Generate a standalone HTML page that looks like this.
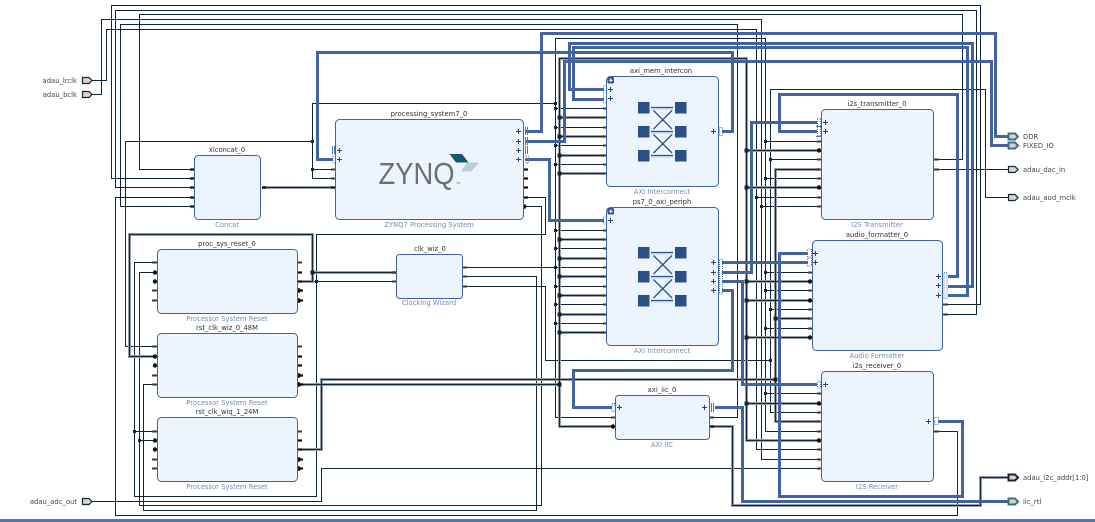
<!DOCTYPE html>
<html>
<head>
<meta charset="utf-8">
<style>
html,body{margin:0;padding:0;background:#fff;width:1095px;height:522px;overflow:hidden}
svg{display:block}
text{font-family:"DejaVu Sans","Liberation Sans",sans-serif;font-size:6.8px;fill:#333}
.t{text-anchor:middle}
.s{text-anchor:middle;fill:#7389bd}
.e{font-size:6.8px;fill:#444}
.n{fill:none;stroke-linejoin:miter}
.thin{fill:none;stroke:#10243a;stroke-width:1}
.gh{fill:none;stroke:#959ea7;stroke-width:3}
.gc{fill:none;stroke:#14263a;stroke-width:1}
.blue{fill:none;stroke:#4263a2;stroke-width:3}
.dot{fill:none;stroke:#10243a;stroke-width:3;stroke-linecap:square}
.dotb{fill:none;stroke:#10243a;stroke-width:4;stroke-linecap:square}
.b{fill:#ecf4fe;stroke:#3f62a3;stroke-width:1}
.pin{fill:none;stroke:#3a3a3a;stroke-width:2}
.pink{fill:none;stroke:#111;stroke-width:2.2}
.clk{fill:#111}
.plus{fill:none;stroke:#24457f;stroke-width:1}
.dash{fill:none;stroke:#4a78c0;stroke-width:1;stroke-dasharray:1 1}
.sol{fill:none;stroke:#4a78c0;stroke-width:1}
.ic{fill:#2c4f8a}
.il{fill:none;stroke:#2f5089;stroke-width:1.3}
.ils{fill:none;stroke:#c5d3e8;stroke-width:1}
.pf{fill:#ddd2cb;stroke:#14263a;stroke-width:1.2}
.pb{fill:#ddd2cb;stroke:#3f7080;stroke-width:2}
.pd{fill:#ddd2cb;stroke:#14263a;stroke-width:2}
</style>
</head>
<body>
<svg width="1095" height="522" viewBox="0 0 1095 522" xmlns="http://www.w3.org/2000/svg">
<rect x="0" y="0" width="1095" height="522" fill="#fff"/>

<!-- thin nets -->
<g class="thin">
<path d="M193 169.5H139.5V14.5H962.5V159.5H935"/>
<path d="M193 178.5H111.5V5.5H980.5V304.5H948"/>
<path d="M193 187.5H115.5V10.5H976.5V314.5H948"/>
<path d="M193 197.5H115.5V515.5H957.5V431.5H938"/>
<path d="M193 206.5H120.5V24.5H737.5V417.5H711"/>
<path d="M92 80.5H106.5V29.5H756.5V449.5H819"/>
<path d="M92 94.5H101.5V19.5H761.5V459.5H819"/>
<path d="M612 417.5H555.5V38.5H765.5V431.5H819"/>
<path d="M312.5 178.5V103.5H555.5"/>
<path d="M312.5 141.5H125.5V346.5H157"/>
<path d="M312.5 169.5H333M312.5 178.5H333"/>
<path d="M555.5 108.5H604M555.5 127.5H604M555.5 145.5H604M555.5 164.5H604M555.5 230.5H604M555.5 248.5H604M555.5 286.5H604M555.5 304.5H604M555.5 323.5H604"/>
<path d="M464 267.5H604"/>
<path d="M464 276.5H536.5V510.5H143.5V384.5H157"/>
<path d="M464 286.5H545.5V360.5H770.5"/>
<path d="M525 197.5H545.5V234.5H316.5V496.5H134.5V262.5H157"/>
<path d="M525 206.5H541.5V505.5H139.5V272.5H157"/>
<path d="M134.5 431.5H157M139.5 440.5H157"/>
<path d="M300 281.5H396"/>
<path d="M92 501.5H321.5V468.5H819"/>
<path d="M819 412.5H770.5V89.5H985.5V197.5H1008"/>
<path d="M935 169.5H1008"/>
<path d="M765.5 141.5H819M765.5 178.5H819M765.5 272.5H810M765.5 290.5H810M765.5 328.5H810M765.5 393.5H819"/>
<path d="M770.5 159.5H819M770.5 309.5H810"/>
<path d="M756.5 197.5H819M761.5 206.5H819"/>
</g>

<!-- gray bus nets: halo -->
<g class="gh">
<path d="M262 187.5H333"/>
<path d="M157 356.5H129.5V234.5H312.5V281.5H302"/>
<path d="M312.5 272.5H396"/>
<path d="M302 384.5H559.5"/>
<path d="M612 426.5H559.5V58.5H746.5V440.5H819"/>
<path d="M559.5 117.5H604M559.5 136.5H604M559.5 155.5H604M559.5 173.5H604M559.5 239.5H604M559.5 258.5H604M559.5 276.5H604M559.5 295.5H604M559.5 314.5H604M559.5 332.5H604"/>
<path d="M746.5 150.5H819M746.5 187.5H819M746.5 281.5H810M746.5 300.5H810M746.5 337.5H810M746.5 403.5H819"/>
<path d="M302 449.5H321.5V379.5H775.5"/>
<path d="M819 169.5H775.5V421.5H819"/>
<path d="M775.5 318.5H810"/>
<path d="M711 426.5H732.5V505.5H980.5V477.5H1008"/>
</g>
<!-- gray bus nets: core -->
<g class="gc">
<path d="M262 187.5H333"/>
<path d="M157 356.5H129.5V234.5H312.5V281.5H302"/>
<path d="M312.5 272.5H396"/>
<path d="M302 384.5H559.5"/>
<path d="M612 426.5H559.5V58.5H746.5V440.5H819"/>
<path d="M559.5 117.5H604M559.5 136.5H604M559.5 155.5H604M559.5 173.5H604M559.5 239.5H604M559.5 258.5H604M559.5 276.5H604M559.5 295.5H604M559.5 314.5H604M559.5 332.5H604"/>
<path d="M746.5 150.5H819M746.5 187.5H819M746.5 281.5H810M746.5 300.5H810M746.5 337.5H810M746.5 403.5H819"/>
<path d="M302 449.5H321.5V379.5H775.5"/>
<path d="M819 169.5H775.5V421.5H819"/>
<path d="M775.5 318.5H810"/>
<path d="M711 426.5H732.5V505.5H980.5V477.5H1008"/>
</g>

<!-- blue interface nets -->
<g class="blue">
<path d="M525 131.5H541.5V33.5H995.5V136.5H1008"/>
<path d="M525 141.5H564.5V61.5H991.5V145.5H1008"/>
<path d="M604 89.5H569.5V43.5H972.5V286.5H948"/>
<path d="M604 99.5H573.5V47.5H967.5V295.5H948"/>
<path d="M333 159.5H317.5V52.5H732.5V131.5H722"/>
<path d="M525 159.5H549.5V220.5H604"/>
<path d="M722 262.5H808"/>
<path d="M722 272.5H751.5V122.5H817"/>
<path d="M722 281.5H742.5V384.5H817"/>
<path d="M722 290.5H732.5V370.5H573.5V407.5H612"/>
<path d="M817 131.5H779.5V94.5H957.5V276.5H948"/>
<path d="M938 421.5H962.5V496.5H779.5V253.5H808"/>
<path d="M715 407.5H742.5V501.5H1008"/>
</g>

<!-- junction dots -->
<g class="dot">
<path d="M312.5 141.5h.01M312.5 169.5h.01M555.5 103.5h.01M555.5 108.5h.01M555.5 127.5h.01M555.5 145.5h.01M555.5 164.5h.01M555.5 230.5h.01M555.5 248.5h.01M555.5 267.5h.01M555.5 286.5h.01M555.5 304.5h.01M555.5 323.5h.01"/>
<path d="M316.5 281.5h.01M134.5 431.5h.01M139.5 440.5h.01"/>
<path d="M765.5 141.5h.01M765.5 178.5h.01M765.5 272.5h.01M765.5 290.5h.01M765.5 328.5h.01M765.5 393.5h.01"/>
<path d="M770.5 159.5h.01M770.5 309.5h.01M770.5 360.5h.01M756.5 197.5h.01M761.5 206.5h.01"/>
</g>
<g class="dotb">
<path d="M312.5 272.5h.01M559.5 384.5h.01"/>
<path d="M559.5 117.5h.01M559.5 136.5h.01M559.5 155.5h.01M559.5 173.5h.01M559.5 239.5h.01M559.5 258.5h.01M559.5 276.5h.01M559.5 295.5h.01M559.5 314.5h.01M559.5 332.5h.01"/>
<path d="M746.5 150.5h.01M746.5 187.5h.01M746.5 281.5h.01M746.5 300.5h.01M746.5 337.5h.01M746.5 403.5h.01"/>
<path d="M775.5 318.5h.01M775.5 379.5h.01"/>
</g>

<!-- pin ticks -->
<g class="pin">
<path d="M603 108.5h4M603 127.5h4M603 145.5h4M603 164.5h4M603 117.5h4M603 136.5h4M603 155.5h4M603 173.5h4"/>
<path d="M603 230.5h4M603 248.5h4M603 267.5h4M603 286.5h4M603 304.5h4M603 323.5h4M603 239.5h4M603 258.5h4M603 276.5h4M603 295.5h4M603 314.5h4M603 332.5h4"/>
<path d="M331 169.5h4M331 178.5h4M817 141.5h4M817 159.5h4M817 169.5h4M817 178.5h4M817 197.5h4M817 206.5h4"/>
<path d="M808 272.5h4M808 290.5h4M808 309.5h4M808 318.5h4M808 328.5h4"/>
<path d="M817 393.5h4M817 412.5h4M817 421.5h4M817 431.5h4M817 449.5h4M817 459.5h4M817 468.5h4"/>
<path d="M934 159.5h5M934 169.5h5M943 304.5h5M943 314.5h5M934 431.5h5"/>
<path d="M392 272.5h4M392 281.5h4M463 267.5h4M463 276.5h4M463 286.5h4"/>
<path d="M152 262.5h5M152 290.5h5M152 300.5h5M152 346.5h5M152 375.5h5M152 384.5h5M152 431.5h5M152 459.5h5M152 468.5h5"/>
<path d="M297 262.5h5M297 346.5h5M297 431.5h5"/>
<path d="M611 417.5h4M710 417.5h4"/>
</g>
<g class="pink">
<path d="M524 169.5h4M524 178.5h4M524 187.5h4M524 197.5h4"/>
<path d="M262 187.5h4M331 187.5h4M190 169.5h4M190 178.5h4M190 187.5h4M190 197.5h4M190 206.5h4"/>
<path d="M297 272.5h5M297 281.5h5M297 356.5h5M297 365.5h5M297 440.5h5M297 449.5h5M710 426.5h4"/>
<path d="M297 290.5h6M297 300.5h6M297 375.5h6M297 384.5h6M297 459.5h6M297 468.5h6"/>
</g>
<g class="clk">
<circle cx="155" cy="272.5" r="2.2"/><circle cx="155" cy="281.5" r="2.2"/>
<circle cx="155" cy="356.5" r="2.2"/><circle cx="155" cy="365.5" r="2.2"/>
<circle cx="155" cy="440.5" r="2.2"/><circle cx="155" cy="449.5" r="2.2"/>
<circle cx="298.5" cy="290.5" r="2.4"/><circle cx="298.5" cy="300.5" r="2.4"/>
<circle cx="298.5" cy="375.5" r="2.4"/><circle cx="298.5" cy="384.5" r="2.4"/>
<circle cx="298.5" cy="459.5" r="2.4"/><circle cx="298.5" cy="468.5" r="2.4"/>
<circle cx="524" cy="206.5" r="2.4"/>
<circle cx="819" cy="150.5" r="2.2"/><circle cx="819" cy="187.5" r="2.2"/>
<circle cx="810" cy="281.5" r="2.2"/><circle cx="810" cy="300.5" r="2.2"/><circle cx="810" cy="337.5" r="2.2"/>
<circle cx="819" cy="403.5" r="2.2"/><circle cx="819" cy="440.5" r="2.2"/>
<circle cx="613" cy="426.5" r="2.2"/>
</g>

<!-- blocks -->
<rect class="b" x="194.5" y="155.5" width="66" height="64" rx="4"/>
<rect class="b" x="335.5" y="119.5" width="188" height="100" rx="4"/>
<rect class="b" x="606.5" y="76.5" width="112" height="110" rx="4"/>
<rect class="b" x="606.5" y="207.5" width="112" height="138" rx="4"/>
<rect class="b" x="821.5" y="109.5" width="112" height="110" rx="4"/>
<rect class="b" x="812.5" y="240.5" width="130" height="110" rx="4"/>
<rect class="b" x="821.5" y="371.5" width="112" height="110" rx="4"/>
<rect class="b" x="615.5" y="395.5" width="94" height="44" rx="3"/>
<rect class="b" x="396.5" y="254.5" width="66" height="44" rx="3"/>
<rect class="b" x="157.5" y="249.5" width="140" height="64" rx="4"/>
<rect class="b" x="157.5" y="333.5" width="140" height="64" rx="4"/>
<rect class="b" x="157.5" y="417.5" width="140" height="64" rx="4"/>

<!-- plus signs -->
<g class="plus">
<path d="M337 150.5h5M339.5 148v5M337 159.5h5M339.5 157v5"/>
<path d="M516 131.5h5M518.5 129v5M516 141.5h5M518.5 139v5M516 150.5h5M518.5 148v5M516 159.5h5M518.5 157v5"/>
<path d="M608 89.5h5M610.5 87v5M608 98.5h5M610.5 96v5M711 131.5h5M713.5 129v5"/>
<path d="M608 220.5h5M610.5 218v5M711 262.5h5M713.5 260v5M711 272.5h5M713.5 270v5M711 281.5h5M713.5 279v5M711 290.5h5M713.5 288v5"/>
<path d="M823 122.5h5M825.5 120v5M823 131.5h5M825.5 129v5"/>
<path d="M813 253.5h5M815.5 251v5M813 262.5h5M815.5 260v5M936 276.5h5M938.5 274v5M936 285.5h5M938.5 283v5M936 295.5h5M938.5 293v5"/>
<path d="M823 384.5h5M825.5 382v5M926 421.5h5M928.5 419v5"/>
<path d="M617 407.5h5M619.5 405v5M702 407.5h5M704.5 405v5"/>
</g>

<!-- interface connector glyphs -->
<g class="sol">
<path d="M332.5 146v8M334.5 146v8"/>
<path d="M525.5 127v8M527.5 127v8M525.5 137v8M527.5 137v8M525.5 146v8M527.5 146v8"/>
<path d="M711.5 403v9M713.5 403v9"/>
<path d="M816 126.5h5M816 136.5h5"/>
</g>
<g class="dash">
<rect x="333" y="156" width="2.5" height="7"/>
<rect x="526" y="156" width="2.5" height="7"/>
<rect x="603.5" y="85.5" width="3" height="17"/>
<rect x="719.5" y="127.5" width="3" height="8"/>
<rect x="603.5" y="217" width="3" height="7"/>
<rect x="719.5" y="259" width="3" height="35"/>
<rect x="817.5" y="118" width="3" height="18"/>
<rect x="807.5" y="249" width="4" height="8"/>
<rect x="807.5" y="258" width="4" height="8"/>
<rect x="944" y="272.5" width="3" height="26"/>
<rect x="817.5" y="381" width="3" height="7"/>
<rect x="934.5" y="417.5" width="4" height="7"/>
<rect x="612" y="403.5" width="3" height="8"/>
</g>

<!-- block expand badges -->
<rect x="607.5" y="77" width="6.5" height="6.5" rx="1.5" fill="#2c4f8a"/>
<path d="M608.8 80.2h4M610.8 78.2v4" stroke="#fff" stroke-width="1" fill="none"/>
<rect x="607.5" y="208" width="6.5" height="6.5" rx="1.5" fill="#2c4f8a"/>
<path d="M608.8 211.2h4M610.8 209.2v4" stroke="#fff" stroke-width="1" fill="none"/>

<!-- interconnect icons -->
<g>
<rect class="ic" x="638" y="102" width="11.5" height="11.5"/>
<rect class="ic" x="638" y="126" width="11.5" height="11.5"/>
<rect class="ic" x="638" y="150" width="11.5" height="11.5"/>
<rect class="ic" x="675" y="102" width="11.5" height="11.5"/>
<rect class="ic" x="675" y="126" width="11.5" height="11.5"/>
<rect class="ic" x="675" y="150" width="11.5" height="11.5"/>
<path class="ils" d="M651 109h22M651 133h22M651 157h22"/>
<path class="il" d="M651 107.5h22M651 131.5h22M651 155.5h22"/>
<path class="il" d="M653.5 110.5L672 129M672 110.5L653.5 129M653.5 134.5L672 153M672 134.5L653.5 153"/>
</g>
<g>
<rect class="ic" x="638" y="247" width="11.5" height="11.5"/>
<rect class="ic" x="638" y="271" width="11.5" height="11.5"/>
<rect class="ic" x="638" y="295" width="11.5" height="11.5"/>
<rect class="ic" x="675" y="247" width="11.5" height="11.5"/>
<rect class="ic" x="675" y="271" width="11.5" height="11.5"/>
<rect class="ic" x="675" y="295" width="11.5" height="11.5"/>
<path class="ils" d="M651 254h22M651 278h22M651 302h22"/>
<path class="il" d="M651 252.5h22M651 276.5h22M651 300.5h22"/>
<path class="il" d="M653.5 255.5L672 274M672 255.5L653.5 274M653.5 279.5L672 298M672 279.5L653.5 298"/>
</g>

<!-- ZYNQ logo -->
<text x="378.5" y="184" textLength="76" lengthAdjust="spacingAndGlyphs" style="font-family:'Liberation Sans',sans-serif;font-size:31px;fill:#6f6f6f">ZYNQ</text>
<text x="456" y="184" style="font-family:'Liberation Sans',sans-serif;font-size:3px;fill:#6f6f6f">TM</text>
<polygon points="449.5,154 462,154 468.5,162.5 456,162.5" fill="#17576f"/>
<polygon points="467,162.5 479,162.5 471,171.5 461,171.5" fill="#bccdd6"/>

<!-- external ports -->
<g>
<path class="pf" d="M82.5 77.5h6.5l3 3-3 3h-6.5z"/>
<path class="pf" d="M82.5 91.5h6.5l3 3-3 3h-6.5z"/>
<path class="pf" d="M82.5 498.5h6.5l3 3-3 3h-6.5z"/>
<path class="pb" d="M1008.5 133.5h6.5l3 3-3 3h-6.5z"/>
<path class="pb" d="M1008.5 142.5h6.5l3 3-3 3h-6.5z"/>
<path class="pf" d="M1008.5 166.5h6.5l3 3-3 3h-6.5z"/>
<path class="pf" d="M1008.5 194.5h6.5l3 3-3 3h-6.5z"/>
<path class="pd" d="M1008.5 474.5h6.5l3 3-3 3h-6.5z"/>
<path class="pb" d="M1008.5 498.5h6.5l3 3-3 3h-6.5z"/>
</g>
<text class="e" x="77" y="83" text-anchor="end">adau_lrclk</text>
<text class="e" x="77" y="97" text-anchor="end">adau_bclk</text>
<text class="e" x="77" y="504" text-anchor="end">adau_adc_out</text>
<text class="e" x="1023" y="139">DDR</text>
<text class="e" x="1023" y="148">FIXED_IO</text>
<text class="e" x="1023" y="172">adau_dac_in</text>
<text class="e" x="1023" y="200">adau_aud_mclk</text>
<text class="e" x="1023" y="480">adau_i2c_addr[1:0]</text>
<text class="e" x="1023" y="504">iic_rtl</text>

<!-- block titles -->
<text class="t" x="227" y="152">xlconcat_0</text>
<text class="s" x="227" y="227">Concat</text>
<text class="t" x="429" y="116">processing_system7_0</text>
<text class="s" x="429" y="227">ZYNQ7 Processing System</text>
<text class="t" x="661" y="73">axi_mem_intercon</text>
<text class="s" x="662" y="194">AXI Interconnect</text>
<text class="t" x="662" y="204">ps7_0_axi_periph</text>
<text class="s" x="662" y="353">AXI Interconnect</text>
<text class="t" x="877" y="106">i2s_transmitter_0</text>
<text class="s" x="877" y="227">I2S Transmitter</text>
<text class="t" x="877" y="237">audio_formatter_0</text>
<text class="s" x="877" y="358">Audio Formatter</text>
<text class="t" x="877" y="368">i2s_receiver_0</text>
<text class="s" x="877" y="489">I2S Receiver</text>
<text class="t" x="662" y="392">axi_iic_0</text>
<text class="s" x="662" y="447">AXI IIC</text>
<text class="t" x="430" y="251">clk_wiz_0</text>
<text class="s" x="429" y="305">Clocking Wizard</text>
<text class="t" x="227" y="246">proc_sys_reset_0</text>
<text class="s" x="227" y="321">Processor System Reset</text>
<text class="t" x="227" y="330">rst_clk_wiz_0_48M</text>
<text class="s" x="227" y="405">Processor System Reset</text>
<text class="t" x="227" y="414">rst_clk_wiq_1_24M</text>
<text class="s" x="227" y="489">Processor System Reset</text>

<!-- bottom bar -->
<rect x="0" y="519" width="1095" height="3" fill="#4476c4"/>
</svg>
</body>
</html>
